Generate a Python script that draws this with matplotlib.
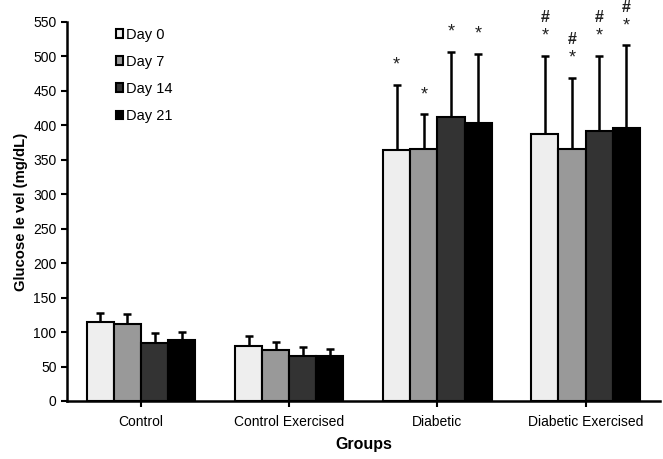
import matplotlib.pyplot as plt
import numpy as np

plt.rcParams['font.family'] = ['Liberation Sans', 'DejaVu Sans']

groups = ['Control', 'Control Exercised', 'Diabetic', 'Diabetic Exercised']
days = ['Day 0', 'Day 7', 'Day 14', 'Day 21']
colors = ['#eeeeee', '#999999', '#333333', '#000000']

# means per day, in group order
means = {
    'Day 0': [115, 80, 364, 387],
    'Day 7': [112, 74, 366, 366],
    'Day 14': [84, 65, 412, 392],
    'Day 21': [89, 66, 403, 396],
}
sds = {
    'Day 0': [12, 15, 95, 114],
    'Day 7': [14, 12, 50, 103],
    'Day 14': [15, 13, 95, 109],
    'Day 21': [11, 10, 101, 120],
}
# significance: * vs control, # vs diabetic
star = {
    'Day 0': [0, 0, 1, 1],
    'Day 7': [0, 0, 1, 1],
    'Day 14': [0, 0, 1, 1],
    'Day 21': [0, 0, 1, 1],
}
hashes = {
    'Day 0': [0, 0, 0, 1],
    'Day 7': [0, 0, 0, 1],
    'Day 14': [0, 0, 0, 1],
    'Day 21': [0, 0, 0, 1],
}

fig = plt.figure(figsize=(6.63, 4.59), dpi=100)
ax = fig.add_axes([0.101, 0.1264, 0.894, 0.8257])

x = np.arange(len(groups))
w = 0.183
for i, d in enumerate(days):
    pos = x + (i - 1.5) * w
    ax.bar(pos, means[d], w, color=colors[i], edgecolor='black', linewidth=1.5,
           label=d, zorder=2)
    ax.errorbar(pos, means[d], yerr=[np.zeros(4), sds[d]], fmt='none',
                ecolor='black', elinewidth=1.8, capsize=3, capthick=1.8, zorder=1)
    for j in range(len(groups)):
        top = means[d][j] + sds[d][j]
        if star[d][j]:
            ax.annotate('*', (pos[j], top), xytext=(0, 11), textcoords='offset points',
                        ha='center', va='baseline', fontsize=13, color='#222222',
                        annotation_clip=False)
        if hashes[d][j]:
            ax.annotate('#', (pos[j], top), xytext=(0, 24), textcoords='offset points',
                        ha='center', va='baseline', fontsize=11.5, color='#222222',
                        fontweight='bold', annotation_clip=False)

ax.set_xlim(-0.5, 3.5)
ax.set_ylim(0, 550)
ax.set_yticks(range(0, 551, 50))
ax.set_xticks(x)
ax.set_xticklabels(groups, fontsize=10)
ax.tick_params(axis='y', labelsize=10, width=1.5, length=4)
ax.tick_params(axis='x', width=1.5, length=4, pad=6)
ax.spines['top'].set_visible(False)
ax.spines['right'].set_visible(False)
ax.spines['left'].set_linewidth(1.8)
ax.spines['bottom'].set_linewidth(1.8)

ax.set_xlabel('Groups', fontsize=11.5, fontweight='bold', labelpad=6)
ax.set_ylabel('Glucose le vel (mg/dL)', fontsize=10.7, fontweight='bold', labelpad=4)

ax.legend(loc='upper left', bbox_to_anchor=(0.06, 1.02), frameon=False,
          fontsize=10.5, handlelength=0.5, handleheight=0.5, handletextpad=0.2,
          labelspacing=0.9)

plt.savefig('out.png', dpi=100)
